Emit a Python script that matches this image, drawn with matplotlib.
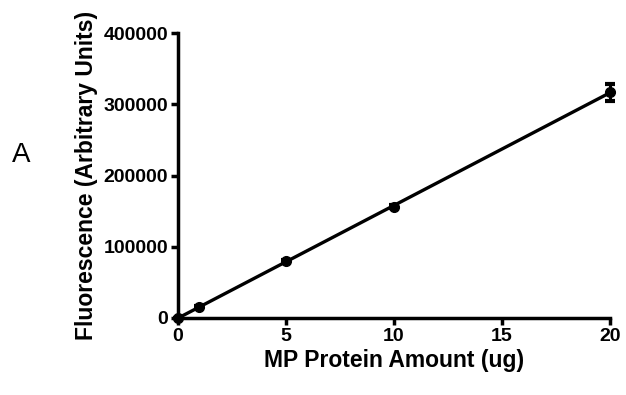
import numpy as np
import matplotlib
matplotlib.use("Agg")
import matplotlib.pyplot as plt

plt.rcParams["font.family"] = ["Liberation Sans", "DejaVu Sans"]

# ---------------------------------------------------
# Data
# ---------------------------------------------------

protein_ug = [0, 1, 5, 10, 20]
fluorescence = [0, 15500, 79500, 156000, 317000]
fluor_err = [0, 1000, 1500, 2000, 12000]

# linear fit through the points
slope, intercept = np.polyfit(protein_ug, fluorescence, 1)
fit_x = np.array([protein_ug[0], protein_ug[-1]])
fit_y = slope * fit_x + intercept

# ---------------------------------------------------
# Figure
# ---------------------------------------------------

fig = plt.figure(figsize=(6.26, 3.95), dpi=100)
ax = fig.add_axes([0.284, 0.195, 0.69, 0.721])

ax.plot(fit_x, fit_y, color="black", lw=2.4, zorder=2)
ax.errorbar(protein_ug, fluorescence, yerr=fluor_err, fmt="o", color="black",
            ms=7, elinewidth=2.2, capsize=3.5, capthick=3, zorder=3, clip_on=False)

ax.set_xlim(0, 20)
ax.set_ylim(0, 400000)
ax.set_xticks([0, 5, 10, 15, 20])
ax.set_yticks([0, 100000, 200000, 300000, 400000])

for side in ["top", "right"]:
    ax.spines[side].set_visible(False)
for side in ["left", "bottom"]:
    ax.spines[side].set_linewidth(2.5)

ax.tick_params(width=2.5, length=5, labelsize=14, pad=2)
for lbl in ax.get_xticklabels() + ax.get_yticklabels():
    lbl.set_fontweight("bold")

ax.set_xlabel("MP Protein Amount (ug)", fontsize=16.5, fontweight="bold", labelpad=3)
ax.set_ylabel("Fluorescence (Arbitrary Units)", fontsize=16.5, fontweight="bold", labelpad=4)

fig.text(0.034, 0.608, "A", fontsize=20, ha="center", va="center")

plt.savefig("out.png", dpi=100)
